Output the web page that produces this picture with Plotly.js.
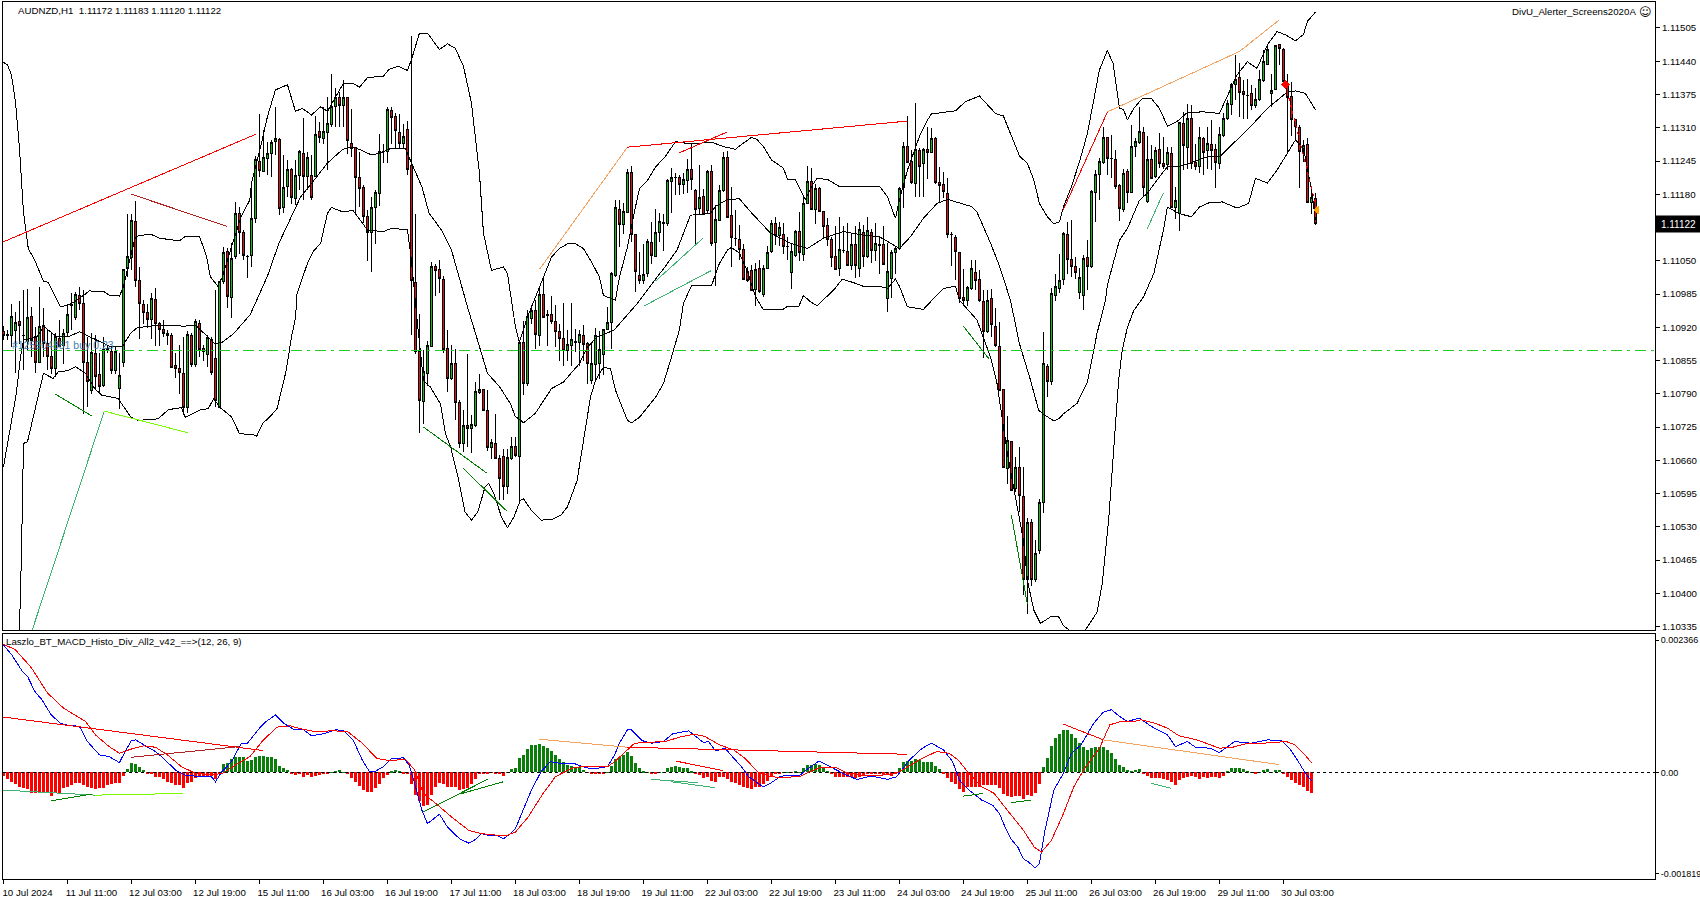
<!DOCTYPE html>
<html><head><meta charset="utf-8">
<script src="https://cdn.plot.ly/plotly-3.0.1.min.js"></script>
<style>html,body{margin:0;padding:0;background:#fff}#c{width:1700px;height:900px}#c .cartesianlayer path{shape-rendering:crispEdges}</style></head>
<body><div id="c"></div>
<script>
// Prices are stored as pipettes above 1.00000 (11172 = 1.11172), MACD values as 1e-6 units.
const openPts=[
10911,10905,10903,10913,10931,10903,10893,10942,10901,10852,
10923,10888,10862,10839,10898,10884,10909,10963,10940,10983,
10966,10852,10797,10869,10828,10806,10878,10872,10835,10800,
10851,11035,11056,11127,11011,10964,10949,10935,10974,10927,
10915,10908,10904,10846,10840,10829,10764,10903,10847,10928,
10878,10867,10897,10859,10764,11009,11068,10979,11058,11142,
11105,11059,11060,11133,11245,11224,11250,11259,11283,11287,
11154,11195,11229,11172,11217,11260,11214,11217,11214,11302,
11289,11300,11317,11351,11369,11353,11369,11279,11271,11212,
11193,11136,11106,11154,11181,11263,11263,11344,11332,11300,
11279,11306,11237,11008,10873,10774,10829,10883,11039,11033,
11014,10878,10819,10850,10772,10692,10728,10723,10727,10792,
10798,10757,10684,10692,10663,10667,10609,10663,10686,10668,
10891,10810,10937,10952,10903,10984,10944,10945,10931,10911,
10898,10875,10885,10892,10891,10903,10888,10815,10847,10849,
10866,10915,10929,11021,11150,11121,11144,11222,11101,11021,
11012,11025,11085,11059,11105,11124,11123,11205,11213,11213,
11199,11207,11229,11188,11152,11175,11148,11224,11085,11128,
11187,11252,11138,11094,11092,11072,11029,11031,10994,11035,
10985,11035,11068,11122,11099,11102,11078,11027,11060,11108,
11063,11162,11205,11151,11192,11147,11118,11091,11059,11035,
11071,11068,11040,11081,11035,11106,11058,11106,11071,11081,
11081,10976,11016,11066,11073,11194,11274,11244,11201,11265,
11241,11267,11262,11289,11203,11199,11182,11102,11096,11066,
10978,10972,10995,11027,11014,10971,10911,10976,10921,10882,
10799,10644,10696,10605,10646,10590,10427,10539,10427,10484,
10577,10843,10814,10983,10996,11013,11102,11052,11038,10987,
10983,11056,11038,11183,11219,11243,11291,11250,11247,11198,
11150,11224,11183,11273,11281,11301,11165,11248,11214,11268,
11240,11239,11260,11154,11142,11318,11272,11328,11242,11234,
11289,11265,11277,11268,11240,11294,11328,11355,11395,11408,
11380,11374,11376,11353,11365,11402,11434,11377,11385,11472,
11463,11391,11372,11326,11311,11263,11277,11163,11172];
const highPts=[
10922,10914,10966,10950,10972,10992,10994,10960,10921,10998,
10957,10917,10908,10908,10934,10917,10966,10986,10989,10998,
10992,10901,10908,10904,10869,10901,10885,10882,10882,10869,
11032,11141,11142,11166,11037,10973,10966,10986,10997,10930,
10934,10914,10908,10869,10885,10901,10912,10908,10937,10934,
10885,10904,10901,10992,11011,11077,11074,11084,11164,11155,
11110,11061,11203,11254,11336,11306,11283,11286,11350,11289,
11257,11247,11231,11247,11267,11329,11263,11257,11332,11322,
11351,11371,11415,11387,11380,11403,11370,11347,11272,11263,
11198,11149,11175,11188,11297,11279,11351,11351,11338,11336,
11318,11323,11489,11141,10946,10875,10894,11048,11044,11051,
11020,10914,10885,10878,10777,10759,10868,10748,10813,10829,
10800,10797,10702,10751,10670,10683,10683,10706,10706,10893,
10933,10953,10963,10973,11001,11021,10953,10982,10963,10927,
10968,10914,10968,10917,10914,10924,10892,10888,10919,10913,
10917,10960,11028,11169,11168,11162,11230,11235,11103,11067,
11083,11093,11126,11152,11143,11141,11209,11231,11221,11218,
11221,11248,11280,11190,11237,11190,11228,11237,11159,11198,
11263,11265,11195,11149,11120,11083,11038,11042,11045,11051,
11042,11078,11130,11136,11126,11123,11097,11084,11111,11146,
11175,11235,11231,11201,11195,11148,11133,11097,11117,11136,
11117,11123,11104,11117,11126,11120,11136,11113,11123,11097,
11118,11084,11071,11078,11195,11283,11332,11267,11358,11270,
11270,11312,11309,11291,11233,11224,11211,11107,11100,11068,
11033,11000,11051,11051,11032,10993,10993,10995,10957,10931,
10800,10746,10698,10667,10686,10647,10548,10545,10504,10585,
10910,10849,10996,11025,11064,11107,11126,11129,11058,11035,
11061,11090,11188,11227,11250,11312,11292,11296,11266,11201,
11230,11230,11315,11289,11351,11312,11294,11276,11273,11299,
11291,11273,11273,11195,11322,11341,11356,11354,11279,11312,
11292,11312,11325,11279,11312,11338,11364,11397,11452,11436,
11403,11406,11393,11387,11423,11462,11474,11416,11472,11474,
11465,11415,11400,11328,11315,11286,11289,11188,11183];
const lowPts=[
10895,10895,10882,10831,10888,10836,10875,10862,10831,10850,
10862,10836,10829,10823,10882,10849,10901,10914,10934,10953,
10751,10764,10790,10797,10790,10803,10869,10829,10829,10761,
10842,11018,11032,10999,10898,10927,10919,10898,10884,10883,
10901,10885,10842,10820,10790,10751,10752,10842,10842,10862,
10855,10842,10826,10764,10763,11005,10958,10939,11054,11064,
11052,11017,11038,11123,11214,11223,11218,11214,11257,11139,
11144,11175,11161,11159,11188,11169,11188,11169,11214,11280,
11278,11227,11312,11312,11312,11312,11258,11252,11139,11155,
11123,11049,11028,11083,11158,11241,11241,11279,11269,11269,
11269,11217,10905,10868,10713,10731,10806,10883,10982,10986,
10870,10793,10816,10739,10684,10676,10686,10674,10725,10790,
10757,10679,10663,10662,10582,10582,10595,10660,10667,10579,
10787,10806,10927,10878,10883,10939,10883,10927,10881,10855,
10845,10855,10845,10872,10845,10855,10810,10810,10819,10819,
10826,10914,10878,11018,11077,11102,11144,11087,10989,11004,
11005,11018,11044,11057,11087,11070,11117,11144,11179,11179,
11181,11182,11188,11078,11141,11141,11143,11078,11001,11128,
11185,11134,11038,11078,11051,11014,11009,10990,10961,10986,
10980,11035,11066,11080,11078,11063,11051,10995,11058,11050,
11050,11162,11149,11121,11145,11094,11078,11038,11032,11020,
11065,11040,11032,11016,11019,11038,11055,11045,11050,11025,
11042,10950,10977,11025,11071,11153,11242,11200,11174,11174,
11174,11209,11261,11201,11162,11172,11094,11040,11012,10967,
10963,10962,10993,10993,10970,10859,10908,10901,10882,10796,
10645,10613,10601,10598,10559,10396,10360,10414,10422,10477,
10557,10784,10807,10972,10986,11002,11025,11018,11015,10976,
10953,10992,11035,11126,11168,11240,11217,11211,11191,11128,
11146,11162,11182,11253,11279,11175,11162,11211,11211,11232,
11230,11227,11155,11131,11108,11227,11230,11230,11227,11221,
11217,11230,11227,11193,11230,11292,11326,11335,11364,11331,
11328,11328,11345,11348,11363,11400,11433,11351,11384,11433,
11390,11260,11294,11286,11193,11243,11162,11141,11120];
const closePts=[
10904,10904,10942,10929,10923,10904,10940,10895,10852,10922,
10888,10862,10840,10901,10883,10908,10945,10964,10985,10966,
10852,10813,10870,10823,10805,10876,10875,10835,10873,10825,
11032,11058,11129,11011,10966,10949,10935,10976,10927,10915,
10908,10904,10842,10839,10831,10764,10906,10848,10931,10876,
10872,10900,10831,10777,11009,11066,10981,11054,11142,11105,
11060,11058,11133,11247,11226,11252,11259,11282,11289,11152,
11194,11229,11174,11217,11263,11214,11252,11173,11296,11291,
11302,11319,11351,11369,11353,11369,11286,11269,11212,11191,
11136,11106,11154,11183,11263,11263,11346,11331,11305,11280,
11293,11228,11012,10873,10777,10834,10885,11038,11030,11015,
10877,10819,10850,10772,10692,10728,10723,10729,10794,10798,
10757,10684,10695,10663,10624,10608,10665,10686,10670,10891,
10811,10942,10953,10906,10984,10940,10943,10931,10911,10898,
10875,10886,10896,10891,10906,10886,10850,10850,10903,10876,
10915,10929,11025,11154,11121,11147,11222,11101,11029,11012,
11023,11088,11061,11105,11126,11123,11206,11213,11212,11200,
11208,11229,11208,11151,11174,11141,11224,11084,11130,11187,
11252,11135,11096,11093,11072,11014,11012,10991,11033,10989,
11035,11067,11123,11099,11115,11078,11077,11068,11108,11066,
11162,11205,11151,11192,11147,11117,11091,11057,11033,11072,
11070,11041,11082,11040,11112,11058,11110,11070,11084,11080,
11042,11029,11066,11073,11192,11274,11242,11203,11268,11234,
11267,11261,11289,11203,11198,11186,11102,11101,11068,10976,
10972,10998,11035,11012,10972,10912,10973,10925,10884,10797,
10645,10699,10601,10646,10592,10427,10539,10427,10477,10577,
10849,10814,10986,10999,11012,11103,11052,11038,11027,11017,
11054,11038,11185,11219,11245,11291,11250,11249,11195,11152,
11221,11183,11274,11284,11303,11193,11248,11211,11266,11240,
11234,11262,11155,11167,11320,11275,11328,11240,11234,11290,
11262,11279,11266,11243,11296,11328,11358,11395,11405,11379,
11375,11373,11354,11365,11405,11440,11463,11383,11470,11465,
11400,11369,11326,11312,11263,11276,11163,11174,11122];

const upperBars=[0,1,2,3,4,5,6.2,7.8,10,11.2,12.6,14.2,16,17.8,20.5,21.4,25,26.4,29,30,31.5,32.9,33.8,36.8,39,44,45.4,49,50.8,51.7,53.5,54.6,57,59.4,61.6,62,64.3,66,68,71,73,74.7,77,79.3,81,83,85,87.4,89,91,95,96.4,98.7,101,102,104,106,109,111,113,115,117,119,120,121,122,125,126,128,129,131,133,135,137,139,141,143,145,147,149,150,153,154,156,158,159,161,163,165.5,168,172,177,180,183,185,187,188.4,190,192,195,196,198,199,200.5,202,203.4,206,209,214,219,221,222.6,223,224,226,229,231,232,238,240.5,244,246,248,250,252,254,256,257.6,259,261,262.6,264,265,267,269,271,274,276,277.4,279,280,281,282.6,284.7,287,289,291,293.4,296,300,304,308.4,311,312,313.4,316,318.4,320.7,323,325,326,328];
const upperPts=[11438,11433,11413,11360,11270,11145,11074,11051,11010,11008,10986,10960,10963,10970,10985,10991,10990,10983,10981,10999,11050,11094,11099,11102,11094,11089,11097,11098,11058,11019,11001,11016,11077,11136,11169,11201,11273,11332,11384,11394,11342,11348,11335,11351,11342,11371,11397,11397,11389,11408,11411,11424,11430,11422,11443,11495,11495,11463,11474,11465,11430,11358,11221,11104,11064,11031,11038,11025,10920,10891,10940,10979,11018,11057,11074,11083,11083,11074,11048,11018,10982,10973,11018,11077,11155,11191,11207,11233,11254,11283,11278,11282,11273,11268,11280,11291,11287,11273,11247,11231,11209,11209,11192,11169,11195,11211,11209,11195,11196,11196,11175,11143,11133,11169,11227,11293,11325,11337,11343,11361,11372,11355,11338,11333,11292,11255,11240,11208,11162,11136,11122,11126,11155,11195,11243,11299,11423,11461,11436,11348,11346,11325,11348,11367,11367,11348,11313,11322,11340,11341,11338,11413,11439,11433,11426,11472,11498,11491,11480,11492,11518,11536];
const middleBars=[0,1.6,3.2,4.25,5,8.4,10,13.4,16,19,22.6,26.75,29.7,31.75,33.4,38.4,42.6,45,48,51,53,54.7,57.6,61.7,66,68.9,71.6,74.3,77,81,84.7,86.5,88,92,94,97,100.5,102,104.6,106.4,109.5,112,116,117,119.5,121,124,126.7,128,129.4,130,133,137,140,144,146,148.4,152.6,155.5,158.4,163,165,168.4,171.75,176.75,178,181,184,186.75,191.75,196.75,201,205,210,215,219,224,226.75,230,233.4,236,242,243.4,246.75,249,251.75,254,256.75,258.8,260,262.6,264,265,268.4,271,273.4,275.5,276,279,281,284,286,289,291,294,297.6,301,304,308.4,311.75,316,318.4,321,323,325.5,328];
const middlePts=[10647,10719,10790,10862,10895,10901,10922,10901,10901,10911,10898,10882,10882,10908,10919,10924,10924,10922,10924,10901,10887,10891,10908,10945,11020,11085,11130,11175,11201,11241,11267,11272,11271,11257,11260,11270,11270,11241,11195,11143,11110,11071,10960,10934,10869,10830,10804,10771,10745,10738,10733,10752,10800,10813,10849,10881,10901,10914,10940,10966,11014,11034,11071,11139,11143,11156,11170,11171,11146,11104,11084,11074,11094,11107,11100,11097,11074,11097,11133,11162,11170,11156,11145,11085,11040,10973,10888,10817,10758,10750,10737,10742,10751,10771,10813,10908,10973,11003,11090,11113,11168,11182,11214,11234,11234,11243,11253,11253,11286,11312,11348,11364,11380,11382,11377,11345];
const lowerBars=[3,4,4.5,4.85,5,6,8.3,10,12.4,13.7,16,18,20.5,22.8,24.6,28.6,31.8,33.6,38.6,41.3,44.5,45.4,49,51.2,52.6,54,57,59,62.5,63.3,64.8,66.6,68.4,70.7,72,73,73.4,76,77.4,79.3,81,82,84.7,87.4,88.3,91,95,96.9,101,102,103.6,105,106.75,109.25,110.5,111.8,113.6,115.4,117,118.6,120.4,121.3,122.6,124.5,126,127.6,129.25,130,132,134.4,137,139.4,141,143.4,146.75,148,150,151.75,153,156,157,159,163,165,166.75,169,170,172,177,179,181,182,184,186,188,190,194.7,196,198.8,200,201.75,203.4,207.6,209.7,212.6,215,219,221,223,224,226,230,233,235,238,239,243.4,246.75,248.4,249.7,251,253,255,256,257.6,259.25,262,263.8,265,266.75,270.5,273.4,274.7,276.3,277.6,278.8,279.7,281,282.6,285,287.6,290,291,294,297,299,301.3,304.7,308.4,311.3,313,316,318.4,321,323,325,327,328];
const lowerPts=[10200,10328,10478,10608,10693,10696,10771,10830,10820,10833,10835,10843,10830,10800,10787,10781,10745,10738,10741,10759,10763,10744,10758,10761,10781,10764,10745,10712,10710,10707,10732,10745,10761,10836,10901,10938,10986,11045,11068,11084,11143,11154,11146,11148,11139,11110,11107,11113,11111,11050,10920,10816,10803,10770,10712,10686,10628,10559,10543,10559,10608,10615,10595,10549,10528,10549,10582,10585,10562,10543,10544,10553,10569,10620,10783,10816,10842,10839,10797,10738,10733,10744,10783,10810,10855,10915,10967,11001,11001,11045,11071,11076,11065,11029,10980,10954,10954,10961,10960,10982,10970,10962,10993,11014,11007,11000,11000,10996,11014,11000,10960,10955,10980,10996,11000,10973,10934,10862,10810,10745,10673,10588,10504,10425,10367,10341,10355,10354,10337,10326,10328,10363,10419,10543,10693,10817,10875,10920,10953,10979,11025,11110,11155,11142,11136,11155,11163,11165,11153,11162,11211,11202,11227,11260,11286,11270,11190,11130];

const macdHist=[
-60,-120,-180,-210,-258,-288,-294,-366,-366,-366,-366,-378,-420,-378,-366,-288,-258,-228,-186,-186,
-234,-258,-282,-294,-282,-276,-234,-210,-198,-198,-66,60,162,144,90,42,-6,-18,-90,-78,
-120,-168,-186,-228,-234,-276,-198,-168,-96,-84,-66,-78,-60,-126,-36,150,162,234,282,282,
270,210,222,270,294,294,282,270,234,114,72,42,-18,-54,-30,-90,-54,-90,-66,-54,
-30,-30,6,30,42,12,-30,-96,-168,-246,-318,-354,-354,-288,-216,-108,-48,18,42,30,
-6,-18,-210,-408,-510,-600,-588,-408,-270,-186,-210,-258,-258,-258,-318,-306,-282,-210,-126,-18,
-6,-6,-2,-18,-30,-60,2,60,84,252,312,420,492,492,504,474,438,390,312,240,
192,132,114,84,90,42,-2,-36,-18,-18,-6,12,114,240,282,312,372,294,162,72,
24,12,-18,-6,6,12,84,102,114,90,84,78,30,-6,-48,-96,-78,-150,-168,-78,
-90,-120,-180,-198,-228,-258,-276,-300,-270,-258,-216,-156,-60,-30,-6,6,12,-2,30,2,
72,126,132,150,132,72,24,-36,-90,-90,-90,-78,-78,-108,-78,-60,-36,-36,-6,-18,
-48,-36,-60,-30,72,180,210,210,240,222,192,186,180,114,54,-6,-96,-180,-210,-300,
-348,-270,-258,-270,-258,-228,-228,-228,-228,-288,-390,-420,-438,-420,-420,-480,-408,-420,-378,-210,
90,252,474,612,690,762,750,690,612,522,462,402,432,450,462,450,402,342,234,132,
102,42,24,42,60,-18,-60,-96,-108,-108,-126,-138,-168,-228,-138,-108,-78,-66,-90,-120,
-78,-96,-90,-90,-108,-66,24,72,78,78,54,30,12,-6,2,42,60,6,42,36,
-18,-78,-138,-198,-228,-258,-330,-366];
const macdBars=[0,2,4.7,6,7.8,9.6,11.9,14.2,15.5,19,21,24,26.4,29,30.4,32,33,36,38,40,43,45.4,49.4,52,53,54.6,57,59.4,61,64,65.7,68,70,72.5,75,77,80,83,85,87.4,89.7,91.5,92.8,95,97,100,101.4,102.8,104.6,106,109,111,114,116.3,117.7,119.5,121.3,123.3,125,126.7,128,129.9,132,134.4,136.7,139,143,145.6,147.4,151,152.8,154,156,157,159.6,162,165,167.3,171.3,175,176.3,178,180.4,182.6,184.5,186.3,189.9,191.7,194.4,199,200.7,203.9,207,210.7,213.4,217,221,223.3,226.5,229.7,232,235,237.3,239,241.4,244.6,247.3,249,250.4,251.8,253.6,255,256.3,257.9,259,260.4,262.6,265,267,269.4,272.6,274.9,277,279,281,284,287,291,293,296,298,301.7,304,307.8,312,316,319.6,321.8,324,325.4,327];
const macdLine=[2280,2112,1812,1722,1452,1302,1032,882,852,822,552,312,282,174,372,570,582,450,372,252,42,-48,-78,-78,-168,12,192,510,522,792,912,1026,882,774,762,654,690,762,750,582,222,12,12,102,252,258,132,-198,-678,-918,-750,-978,-1188,-1266,-1218,-1098,-1128,-1128,-1188,-1098,-1008,-678,-318,12,192,162,150,84,60,102,312,522,762,762,570,522,552,690,744,534,552,384,432,252,102,-78,-258,-198,-66,-60,42,204,90,-48,-126,-66,-126,-78,222,432,522,402,192,-138,-318,-498,-588,-738,-978,-1188,-1338,-1548,-1608,-1710,-1638,-1038,-318,-18,342,492,882,1074,1122,1002,912,972,822,672,462,552,450,432,354,552,522,582,564,402,162,-6,-150];
const signalBars=[0,2.9,7,11,15,17.8,20.5,23,26.4,29,31.8,35,38,41,44.5,48,52,54.8,58,61.6,65,68.4,71.6,74.7,77.9,82.4,86,89.7,93.3,96.4,100.5,102.8,105,108.6,112,116.3,119.5,125.4,128,131.2,134.9,138,142,143.8,151,152.8,155,157.8,161.9,165.5,169,172.7,175.4,179,182.6,185.4,188.5,191.7,194.4,199,201.6,204.3,208,210.7,214.3,219.7,223.3,226,229.7,233.3,236.4,238.7,241,244.6,247.7,251.3,255,257.7,259.5,262,265,267.6,270.3,274,276.6,279.4,282.7,284.4,287.8,291,293.9,298.4,304,307.3,310.6,315,320.7,322.9,325,327];
const signalLine=[2292,2202,1872,1422,1152,1032,912,672,462,342,414,474,450,312,102,-18,-48,-18,132,282,582,810,834,774,732,744,732,522,252,210,234,42,-378,-588,-798,-1038,-1098,-1140,-1068,-798,-378,-78,72,96,102,192,342,522,540,552,630,684,642,492,402,252,12,-78,-90,-78,12,90,90,-6,-48,-48,-18,102,252,372,342,222,12,-258,-378,-708,-1038,-1338,-1428,-1218,-738,-258,72,432,852,912,912,942,882,792,654,582,432,450,510,522,552,492,342,174];

const mainLineBars=[[0,63],[32,56],[13,22],[6,25.2],[25.2,46],[105,120.8],[115,125.8],[134,156],[156,226],[169,181],[163,175],[160,177],[240,246.4],[252,256],[265,276],[276,309,319],[286,290]];
const mainLinePts=[[11087,11297],[11180,11117],[10789,10747],[10300,10756],[10756,10714],[10725,10635],[10644,10561],[11033,11272],[11272,11323],[11261,11302],[11010,11095],[10961,11031],[10922,10858],[10552,10378],[11150,11341],[11341,11459,11521],[11113,11183]];
const mainLineColors=['#ff0000','#b22222','#008000','#3cb371','#7cfc00','#008000','#008000','#f4a460','#ff0000','#ff0000','#3cb371','#3cb371','#008000','#008000','#ff0000','#f4a460','#3cb371'];
const macdDivBars=[[0,65],[32,59],[0,23],[23,45],[12,22],[105,121],[114,125],[134,156],[156,226],[168,180],[162,173.6],[167,178],[240,245],[252,257],[265,275],[275,319],[287,292]];
const macdDivVals=[[990,390],[270,462],[-318,-408],[-408,-378],[-510,-390],[-708,-126],[-390,-168],[594,450],[450,324],[204,30],[-126,-186],[-168,-276],[-426,-378],[-540,-498],[864,582],[582,138],[-198,-288]];
const macdDivColors=['#ff0000','#b22222','#3cb371','#7cfc00','#008000','#008000','#008000','#f4a460','#ff0000','#ff0000','#3cb371','#3cb371','#008000','#008000','#ff0000','#f4a460','#3cb371'];

const orderLevel=10875;
const orderBars=[320.5,328.4];
const orderPts=[11395,11149];

const dateLabels=['10 Jul 2024','11 Jul 11:00','12 Jul 03:00','12 Jul 19:00','15 Jul 11:00','16 Jul 03:00','16 Jul 19:00','17 Jul 11:00','18 Jul 03:00','18 Jul 19:00','19 Jul 11:00','22 Jul 03:00','22 Jul 19:00','23 Jul 11:00','24 Jul 03:00','24 Jul 19:00','25 Jul 11:00','26 Jul 03:00','26 Jul 19:00','29 Jul 11:00','30 Jul 03:00'];
const priceTicks=[11505,11440,11375,11310,11245,11180,11115,11050,10985,10920,10855,10790,10725,10660,10595,10530,10465,10400,10335];
const macdTicks=[2366,0,-1819];
const macdTickText=['0.002366','0.00','-0.001819'];

const P=a=>a.map(v=>(100000+v)/1e5), M=a=>a.map(v=>v/1e6);
const FONT='"Liberation Sans",sans-serif';
const xMin=-0.12,xMax=412.9;
const bars=openPts.map((_,i)=>i);
const tr=[];
tr.push({type:'candlestick',x:bars,open:P(openPts),high:P(highPts),low:P(lowPts),close:P(closePts),xaxis:'x',yaxis:'y',
  increasing:{line:{color:'#000',width:1},fillcolor:'#10c010'},decreasing:{line:{color:'#000',width:1},fillcolor:'#e01010'},
  whiskerwidth:0,showlegend:false});
const band=(x,y)=>tr.push({type:'scatter',mode:'lines',x:x,y:P(y),xaxis:'x',yaxis:'y',line:{color:'#000',width:1},hoverinfo:'skip'});
band(upperBars,upperPts);band(middleBars,middlePts);band(lowerBars,lowerPts);
tr.push({type:'scatter',mode:'lines',x:[xMin,xMax],y:P([orderLevel,orderLevel]),xaxis:'x',yaxis:'y',line:{color:'#22cc22',width:1,dash:'11px,5px,3px,5px'},hoverinfo:'skip'});
mainLineBars.forEach((b,k)=>tr.push({type:'scatter',mode:'lines',x:b,y:P(mainLinePts[k]),xaxis:'x',yaxis:'y',line:{color:mainLineColors[k],width:1},hoverinfo:'skip'}));
tr.push({type:'scatter',mode:'lines',x:orderBars,y:P(orderPts),xaxis:'x',yaxis:'y',line:{color:'#ff0000',width:1,dash:'3px,4px'},hoverinfo:'skip'});
tr.push({type:'scatter',mode:'markers',x:[orderBars[0]],y:P([orderPts[0]]),xaxis:'x',yaxis:'y',marker:{symbol:'diamond',size:7,color:'#ff0000'},hoverinfo:'skip'});
tr.push({type:'scatter',mode:'markers',x:[orderBars[1]],y:P([orderPts[1]]),xaxis:'x',yaxis:'y',marker:{symbol:'triangle-left',size:8,color:'#ffa500'},hoverinfo:'skip'});
// MACD panel
const histBars=macdHist.map((_,i)=>i);
tr.push({type:'bar',x:histBars,y:M(macdHist),xaxis:'x2',yaxis:'y2',width:0.75,marker:{color:macdHist.map(v=>v>=0?'#0a7d0a':'#ff0000'),line:{width:0}},hoverinfo:'skip'});
tr.push({type:'scatter',mode:'lines',x:[xMin,xMax],y:[0,0],xaxis:'x2',yaxis:'y2',line:{color:'#000',width:1,dash:'3px,3px'},hoverinfo:'skip'});
tr.push({type:'scatter',mode:'lines',x:macdBars,y:M(macdLine),xaxis:'x2',yaxis:'y2',line:{color:'#0000ff',width:1},hoverinfo:'skip'});
tr.push({type:'scatter',mode:'lines',x:signalBars,y:M(signalLine),xaxis:'x2',yaxis:'y2',line:{color:'#ff0000',width:1},hoverinfo:'skip'});
macdDivBars.forEach((b,k)=>tr.push({type:'scatter',mode:'lines',x:b,y:M(macdDivVals[k]),xaxis:'x2',yaxis:'y2',line:{color:macdDivColors[k],width:1},hoverinfo:'skip'}));

const tf={family:FONT,size:9.7,color:'#000'};
const tfR={family:FONT,size:9,color:'#000'};
const H=877,mainBot=(879-630)/H,macdTop=(879-633.5)/H;
const layout={width:1700,height:900,margin:{l:3,r:45,t:2,b:21},paper_bgcolor:'#fff',plot_bgcolor:'#fff',showlegend:false,barmode:'overlay',dragmode:false,
 xaxis:{type:'linear',domain:[0,1],anchor:'y',range:[xMin,xMax],showticklabels:false,ticks:'',showgrid:false,zeroline:false,showline:true,mirror:true,linecolor:'#000',linewidth:1,rangeslider:{visible:false}},
 yaxis:{type:'linear',domain:[mainBot,1],anchor:'x',side:'right',range:[1.103282,1.115558],tickmode:'array',tickvals:P(priceTicks),ticktext:P(priceTicks).map(v=>v.toFixed(5)),ticks:'outside',ticklen:4,tickcolor:'#000',tickfont:tf,ticklabeloverflow:'allow',showgrid:false,zeroline:false,showline:true,mirror:true,linecolor:'#000',linewidth:1},
 xaxis2:{type:'linear',domain:[0,1],anchor:'y2',range:[xMin,xMax],tickmode:'array',tickvals:dateLabels.map((_,k)=>k*16),ticktext:dateLabels,ticks:'outside',ticklen:4,tickcolor:'#000',tickfont:tf,ticklabelshift:24,ticklabelstandoff:0,ticklabeloverflow:'allow',tickangle:0,showgrid:false,zeroline:false,showline:true,mirror:true,linecolor:'#000',linewidth:1},
 yaxis2:{type:'linear',domain:[0,macdTop],anchor:'x2',side:'right',range:[-0.00191,0.002487],tickmode:'array',tickvals:M(macdTicks),ticktext:macdTickText,ticks:'outside',ticklen:3,tickcolor:'#000',tickfont:tfR,ticklabelstandoff:0,ticklabeloverflow:'allow',showgrid:false,zeroline:false,showline:true,mirror:true,linecolor:'#000',linewidth:1},
 annotations:[
  {xref:'paper',yref:'paper',x:13/1652,y:1-8.5/877,xanchor:'left',yanchor:'middle',showarrow:false,text:'AUDNZD,H1  1.11172 1.11183 1.11120 1.11122',font:tf},
  {xref:'paper',yref:'paper',x:1/1652,y:macdTop-8/877,xanchor:'left',yanchor:'middle',showarrow:false,text:'Laszlo_BT_MACD_Histo_Div_All2_v42_==>(12, 26, 9)',font:tf},
  {xref:'paper',yref:'paper',x:(1638-3)/1652,y:1-10/877,xanchor:'right',yanchor:'middle',showarrow:false,text:'DivU_Alerter_Screens2020A',font:tf},
  {xref:'paper',yref:'paper',x:(1637-3)/1652,y:1-10/877,xanchor:'left',yanchor:'middle',showarrow:false,text:'☺',font:{family:'DejaVu Sans',size:12,color:'#000'}},
  {xref:'paper',yref:'paper',x:7/1652,y:(879-345)/877,xanchor:'left',yanchor:'middle',showarrow:false,text:'#125904881 buy 0.23',font:{family:FONT,size:10.5,color:'#4682b4'}},
  {xref:'paper',yref:'y',x:1,y:1.11122,xanchor:'left',yanchor:'middle',xshift:0,showarrow:false,text:'1.11122',font:{family:FONT,size:10,color:'#fff'},bgcolor:'#000',width:43,height:14,align:'center'}
 ]};
Plotly.newPlot('c',tr,layout,{displayModeBar:false});
</script></body></html>
